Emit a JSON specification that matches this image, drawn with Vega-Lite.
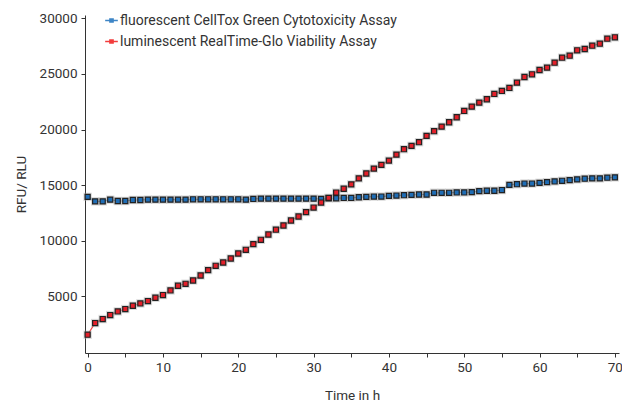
{
  "$schema": "https://vega.github.io/schema/vega-lite/v6.json",
  "width": 534,
  "height": 338,
  "autosize": {"type": "none"},
  "padding": {"left": 85, "top": 15, "right": 3, "bottom": 50},
  "config": {
    "font": "Roboto",
    "view": {"stroke": null},
    "axis": {
      "grid": false,
      "domainColor": "#333333",
      "tickColor": "#333333",
      "tickSize": 4,
      "labelFontSize": 13.5,
      "labelColor": "#333333",
      "titleFontSize": 13.5,
      "titleFontWeight": "normal",
      "titleColor": "#333333"
    }
  },
  "data": {
    "values": [
      {"t":0,"fluo":13946,"lum":1562},{"t":1,"fluo":13545,"lum":2612},{"t":2,"fluo":13545,"lum":2971},{"t":3,"fluo":13699,"lum":3330},{"t":4,"fluo":13576,"lum":3654},
      {"t":5,"fluo":13576,"lum":3869},{"t":6,"fluo":13668,"lum":4165},{"t":7,"fluo":13668,"lum":4372},{"t":8,"fluo":13699,"lum":4587},{"t":9,"fluo":13699,"lum":4883},
      {"t":10,"fluo":13699,"lum":5126},{"t":11,"fluo":13699,"lum":5539},{"t":12,"fluo":13699,"lum":5961},{"t":13,"fluo":13699,"lum":6140},{"t":14,"fluo":13730,"lum":6436},
      {"t":15,"fluo":13730,"lum":6885},{"t":16,"fluo":13730,"lum":7370},{"t":17,"fluo":13730,"lum":7756},{"t":18,"fluo":13730,"lum":8052},{"t":19,"fluo":13730,"lum":8412},
      {"t":20,"fluo":13730,"lum":8860},{"t":21,"fluo":13699,"lum":9192},{"t":22,"fluo":13761,"lum":9703},{"t":23,"fluo":13791,"lum":10090},{"t":24,"fluo":13791,"lum":10566},
      {"t":25,"fluo":13791,"lum":11000},{"t":26,"fluo":13791,"lum":11375},{"t":27,"fluo":13791,"lum":11824},{"t":28,"fluo":13791,"lum":12183},{"t":29,"fluo":13791,"lum":12578},
      {"t":30,"fluo":13791,"lum":12991},{"t":31,"fluo":13761,"lum":13440},{"t":32,"fluo":13823,"lum":13860},{"t":33,"fluo":13823,"lum":14336},{"t":34,"fluo":13853,"lum":14680},
      {"t":35,"fluo":13853,"lum":15070},{"t":36,"fluo":13914,"lum":15610},{"t":37,"fluo":13946,"lum":16050},{"t":38,"fluo":13976,"lum":16490},{"t":39,"fluo":13976,"lum":16822},
      {"t":40,"fluo":14038,"lum":17208},{"t":41,"fluo":14069,"lum":17747},{"t":42,"fluo":14099,"lum":18232},{"t":43,"fluo":14131,"lum":18528},{"t":44,"fluo":14161,"lum":18860},
      {"t":45,"fluo":14161,"lum":19426},{"t":46,"fluo":14316,"lum":19848},{"t":47,"fluo":14316,"lum":20260},{"t":48,"fluo":14316,"lum":20655},{"t":49,"fluo":14346,"lum":21104},
      {"t":50,"fluo":14346,"lum":21670},{"t":51,"fluo":14377,"lum":22056},{"t":52,"fluo":14469,"lum":22420},{"t":53,"fluo":14500,"lum":22720},{"t":54,"fluo":14500,"lum":23196},
      {"t":55,"fluo":14562,"lum":23465},{"t":56,"fluo":15024,"lum":23734},{"t":57,"fluo":15086,"lum":24210},{"t":58,"fluo":15147,"lum":24721},{"t":59,"fluo":15147,"lum":24964},
      {"t":60,"fluo":15209,"lum":25350},{"t":61,"fluo":15270,"lum":25557},{"t":62,"fluo":15332,"lum":26005},{"t":63,"fluo":15394,"lum":26454},{"t":64,"fluo":15455,"lum":26634},
      {"t":65,"fluo":15517,"lum":27119},{"t":66,"fluo":15579,"lum":27235},{"t":67,"fluo":15609,"lum":27531},{"t":68,"fluo":15609,"lum":27711},{"t":69,"fluo":15671,"lum":28160},
      {"t":70,"fluo":15702,"lum":28286}
    ]
  },
  "transform": [{"fold": ["fluo", "lum"], "as": ["series", "v"]}],
  "encoding": {
    "x": {
      "field": "t", "type": "quantitative",
      "scale": {"domain": [-0.35, 70.55], "nice": false, "zero": false},
      "axis": {
        "values": [0,5,10,15,20,25,30,35,40,45,50,55,60,65,70],
        "labelExpr": "datum.value % 10 === 0 ? datum.label : ''",
        "labelFlush": false,
        "labelPadding": 3,
        "title": "Time in h",
        "titlePadding": 15
      }
    },
    "y": {
      "field": "v", "type": "quantitative",
      "scale": {"domain": [-80, 30290], "nice": false, "zero": false},
      "axis": {
        "values": [5000,10000,15000,20000,25000,30000],
        "format": "d",
        "labelPadding": 4,
        "title": "RFU/ RLU",
        "titlePadding": 11
      }
    }
  },
  "layer": [
    {
      "mark": {"type": "line", "strokeWidth": 1.2},
      "encoding": {
        "color": {
          "field": "series", "type": "nominal",
          "scale": {"domain": ["fluo", "lum"], "range": ["#3d85c6", "#f23c3c"]},
          "legend": {
            "orient": "none",
            "legendX": 19,
            "legendY": -2,
            "title": null,
            "labelExpr": "datum.value === 'fluo' ? 'fluorescent CellTox Green Cytotoxicity Assay' : 'luminescent RealTime-Glo Viability Assay'",
            "labelFontSize": 14,
            "labelColor": "#333333",
            "labelLimit": 400,
            "labelOffset": 1,
            "rowPadding": 6,
            "symbolType": "M-1,0H1M-0.25,-0.25H0.25V0.25H-0.25Z",
            "symbolSize": 160,
            "symbolStrokeWidth": 1.5
          }
        }
      }
    },
    {
      "mark": {"type": "point", "shape": "square", "filled": true, "size": 70, "color": "#aaaaaa", "opacity": 0.45},
      "encoding": {"detail": {"field": "series"}}
    },
    {
      "mark": {"type": "point", "shape": "square", "filled": true, "size": 26, "stroke": "#222222", "strokeWidth": 1.2, "opacity": 1},
      "encoding": {
        "fill": {
          "field": "series", "type": "nominal",
          "scale": {"domain": ["fluo", "lum"], "range": ["#1f6db5", "#e3202a"]},
          "legend": null
        }
      }
    }
  ]
}
